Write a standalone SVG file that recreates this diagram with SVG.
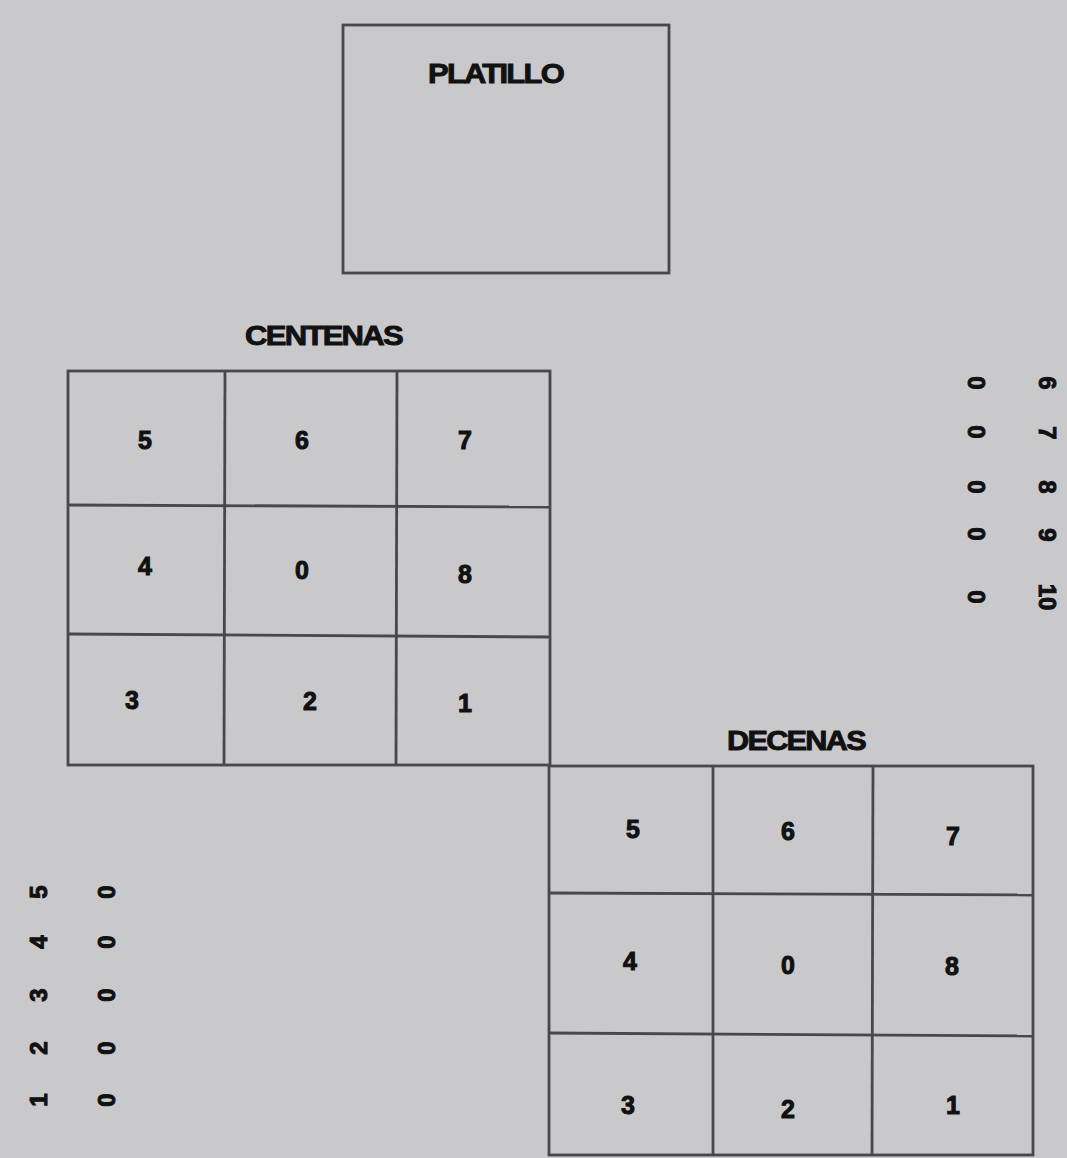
<svg xmlns="http://www.w3.org/2000/svg" width="1067" height="1158" viewBox="0 0 1067 1158">
<style>
.bg{fill:#c9c9cc}
.ln{stroke:#48484a;stroke-width:2.8;fill:none}
.ttl{font-family:"Liberation Sans",Arial,sans-serif;font-weight:bold;font-size:27px;fill:#111;stroke:#111;stroke-width:0.9;letter-spacing:-1.5px}
.dg{font-family:"Liberation Sans",Arial,sans-serif;font-weight:bold;font-size:25px;fill:#111;stroke:#111;stroke-width:1;text-anchor:middle}
.rt{font-family:"Liberation Sans",Arial,sans-serif;font-weight:bold;font-size:24px;fill:#111;stroke:#111;stroke-width:1;text-anchor:middle;dominant-baseline:central}
</style>
<rect class="bg" x="0" y="0" width="1067" height="1158"/>

<g id="platillo">
<rect class="ln" x="343" y="25" width="326" height="248"/>
<text class="ttl" x="428" y="83" textLength="135" lengthAdjust="spacingAndGlyphs">PLATILLO</text>
</g>

<g id="centenas">
<text class="ttl" x="245" y="345" textLength="157" lengthAdjust="spacingAndGlyphs">CENTENAS</text>
<rect class="ln" x="68" y="371" width="482" height="394"/>
<line class="ln" x1="225" y1="371" x2="224" y2="765"/>
<line class="ln" x1="397" y1="371" x2="396" y2="765"/>
<line class="ln" x1="68" y1="505" x2="550" y2="507"/>
<line class="ln" x1="68" y1="634" x2="550" y2="637"/>
<text class="dg" x="145" y="449">5</text>
<text class="dg" x="302" y="449">6</text>
<text class="dg" x="465" y="449">7</text>
<text class="dg" x="145" y="575">4</text>
<text class="dg" x="302" y="579">0</text>
<text class="dg" x="465" y="583">8</text>
<text class="dg" x="132" y="709">3</text>
<text class="dg" x="310" y="710">2</text>
<text class="dg" x="465" y="712">1</text>
</g>

<g id="decenas">
<text class="ttl" x="727" y="750" textLength="138" lengthAdjust="spacingAndGlyphs">DECENAS</text>
<rect class="ln" x="549" y="766" width="484" height="389"/>
<line class="ln" x1="713" y1="766" x2="713" y2="1155"/>
<line class="ln" x1="873" y1="766" x2="872" y2="1155"/>
<line class="ln" x1="549" y1="893" x2="1033" y2="895"/>
<line class="ln" x1="549" y1="1033" x2="1033" y2="1036"/>
<text class="dg" x="633" y="838">5</text>
<text class="dg" x="788" y="840">6</text>
<text class="dg" x="953" y="845">7</text>
<text class="dg" x="630" y="970">4</text>
<text class="dg" x="788" y="974">0</text>
<text class="dg" x="952" y="975">8</text>
<text class="dg" x="628" y="1114">3</text>
<text class="dg" x="788" y="1118">2</text>
<text class="dg" x="953" y="1114">1</text>
</g>

<g id="tabla-derecha">
<text class="rt" transform="rotate(90 976 383)" x="976" y="383">0</text>
<text class="rt" transform="rotate(90 976 432)" x="976" y="432">0</text>
<text class="rt" transform="rotate(90 976 487)" x="976" y="487">0</text>
<text class="rt" transform="rotate(90 976 534)" x="976" y="534">0</text>
<text class="rt" transform="rotate(90 976 597)" x="976" y="597">0</text>
<text class="rt" transform="rotate(90 1047 383)" x="1047" y="383">6</text>
<text class="rt" transform="rotate(90 1047 433)" x="1047" y="433">7</text>
<text class="rt" transform="rotate(90 1047 487)" x="1047" y="487">8</text>
<text class="rt" transform="rotate(90 1047 535)" x="1047" y="535">9</text>
<text class="rt" transform="rotate(90 1047 597)" x="1047" y="597">10</text>
</g>

<g id="tabla-izquierda">
<text class="rt" transform="rotate(-90 38 1100)" x="38" y="1100">1</text>
<text class="rt" transform="rotate(-90 38 1048)" x="38" y="1048">2</text>
<text class="rt" transform="rotate(-90 38 995)" x="38" y="995">3</text>
<text class="rt" transform="rotate(-90 38 942)" x="38" y="942">4</text>
<text class="rt" transform="rotate(-90 38 892)" x="38" y="892">5</text>
<text class="rt" transform="rotate(-90 106 1100)" x="106" y="1100">0</text>
<text class="rt" transform="rotate(-90 106 1048)" x="106" y="1048">0</text>
<text class="rt" transform="rotate(-90 106 995)" x="106" y="995">0</text>
<text class="rt" transform="rotate(-90 106 942)" x="106" y="942">0</text>
<text class="rt" transform="rotate(-90 106 892)" x="106" y="892">0</text>
</g>
</svg>
